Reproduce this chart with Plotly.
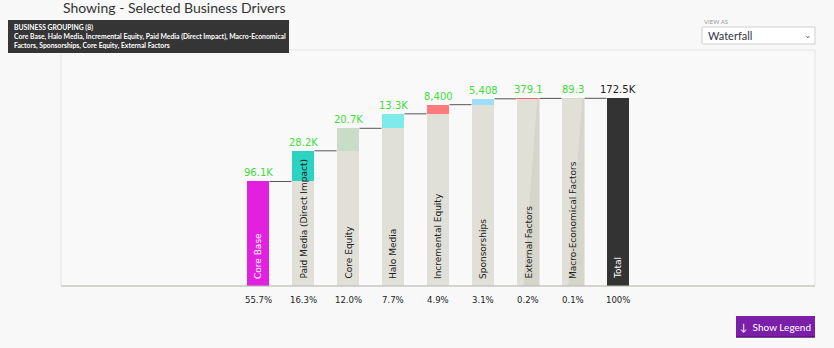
import plotly.graph_objects as go

categories = ["Core Base", "Paid Media (Direct Impact)", "Core Equity", "Halo Media",
              "Incremental Equity", "Sponsorships", "External Factors",
              "Macro-Economical Factors", "Total"]
values = [96100, 28200, 20700, 13300, 8400, 5408, 379.1, 89.3]
total_value = 172500
value_labels = ["96.1K", "28.2K", "20.7K", "13.3K", "8,400", "5,408", "379.1", "89.3", "172.5K"]
pct_labels = ["55.7%", "16.3%", "12.0%", "7.7%", "4.9%", "3.1%", "0.2%", "0.1%", "100%"]
bar_colors = ["#E120E0", "#2BD3C0", "#C9DCC8", "#7EEAEA", "#FF7B7B", "#9EDFF7",
              "#F06464", "#D9D9CF", "#333333"]

W, H = 834, 348
L, R, T, B = 61, 19, 50, 62
PW, PH = W - L - R, H - T - B

def px(x):
    return (x - L) / PW

def py(y):
    return (H - B - y) / PH

n = len(categories)
xs = list(range(n))
starts = []
acc = 0
for v in values:
    starts.append(acc)
    acc += v
tops = [s + v for s, v in zip(starts, values)] + [total_value]

BW = 0.51
fig = go.Figure()

# grey support bars
fig.add_trace(go.Bar(x=xs[1:8], y=starts[1:], base=0, width=BW,
                     marker=dict(color="#E0E0D9", line=dict(width=0)),
                     hoverinfo="skip", showlegend=False))
# increments
fig.add_trace(go.Bar(x=xs[:8], y=values, base=starts, width=BW,
                     marker=dict(color=bar_colors[:8], line=dict(width=0)),
                     hoverinfo="skip", showlegend=False))
# total
fig.add_trace(go.Bar(x=[xs[8]], y=[total_value], base=0, width=BW,
                     marker=dict(color=bar_colors[8], line=dict(width=0)),
                     hoverinfo="skip", showlegend=False))

# connectors
for i in range(n - 1):
    fig.add_trace(go.Scatter(x=[xs[i] + BW / 2, xs[i + 1] - BW / 2], y=[tops[i], tops[i]],
                             mode="lines", line=dict(color="#555555", width=1),
                             hoverinfo="skip", showlegend=False))

shapes = []
# subtle diagonal shading on small-value bars
for i in (6, 7):
    shapes.append(dict(type="path", xref="x", yref="y",
                       path=f"M {xs[i] + BW/2 - 0.05} {starts[i]} L {xs[i] + BW/2} {starts[i]} "
                            f"L {xs[i] + BW/2} 0 L {xs[i] - BW/2 + 0.15} 0 Z",
                       fillcolor="#D5D5CB", line=dict(width=0), layer="above"))

annotations = []
for i in range(n):
    annotations.append(dict(x=xs[i], y=tops[i], xref="x", yref="y", text=value_labels[i],
                            showarrow=False, yanchor="bottom", yshift=1,
                            font=dict(family="DejaVu Sans", size=10,
                                      color="#222222" if i == n - 1 else "#3FDC3A")))
    annotations.append(dict(x=xs[i], y=0, xref="x", yref="y", text=categories[i],
                            showarrow=False, textangle=-90, yanchor="bottom", yshift=5,
                            font=dict(family="DejaVu Sans", size=9,
                                      color="#FFFFFF" if i in (0, n - 1) else "#222222")))
    annotations.append(dict(x=xs[i], y=0, xref="x", yref="paper", text=pct_labels[i],
                            showarrow=False, yanchor="middle", yshift=-13,
                            font=dict(family="DejaVu Sans Condensed, DejaVu Sans", size=9.5,
                                      color="#222222")))

# panel frame and baseline
shapes.append(dict(type="rect", xref="paper", yref="paper", x0=0, x1=1, y0=0, y1=1,
                   line=dict(color="#E4E4E4", width=1), layer="below"))
shapes.append(dict(type="line", xref="paper", yref="paper", x0=0, x1=1, y0=0, y1=0,
                   line=dict(color="#B8B8B0", width=1.2)))

# tooltip box
shapes.append(dict(type="rect", xref="paper", yref="paper", x0=px(8), x1=px(289),
                   y0=py(53), y1=py(20), fillcolor="#353535", line=dict(width=0)))
annotations.append(dict(xref="paper", yref="paper", x=px(12), y=py(27), text="<b>BUSINESS GROUPING (8)</b>",
                        showarrow=False, xanchor="left", yanchor="middle",
                        font=dict(family="Lato", size=6.8, color="#FFFFFF")))
annotations.append(dict(xref="paper", yref="paper", x=px(12), y=py(41),
                        text="<b>Core Base, Halo Media, Incremental Equity, Paid Media (Direct Impact), Macro-Economical<br>Factors, Sponsorships, Core Equity, External Factors</b>",
                        showarrow=False, xanchor="left", yanchor="middle", align="left",
                        font=dict(family="Lato", size=6.8, color="#FFFFFF")))

# title
annotations.append(dict(xref="paper", yref="paper", x=px(61), y=py(7), text="Showing - Selected Business Drivers",
                        showarrow=False, xanchor="left", yanchor="middle",
                        font=dict(family="Lato", size=14, color="#333333")))

# view-as dropdown
annotations.append(dict(xref="paper", yref="paper", x=px(702), y=py(21), text="VIEW AS",
                        showarrow=False, xanchor="left", yanchor="middle",
                        font=dict(family="Lato", size=6, color="#999999")))
shapes.append(dict(type="rect", xref="paper", yref="paper", x0=px(702), x1=px(815),
                   y0=py(44), y1=py(27), fillcolor="#FFFFFF", line=dict(color="#CFCFCF", width=1)))
annotations.append(dict(xref="paper", yref="paper", x=px(706), y=py(36), text="Waterfall",
                        showarrow=False, xanchor="left", yanchor="middle",
                        font=dict(family="Lato", size=11, color="#333344")))
annotations.append(dict(xref="paper", yref="paper", x=px(808), y=py(35), text="⌄",
                        showarrow=False, xanchor="center", yanchor="middle",
                        font=dict(family="DejaVu Sans", size=9, color="#666666")))

# show legend button
shapes.append(dict(type="rect", xref="paper", yref="paper", x0=px(736), x1=px(815),
                   y0=py(337), y1=py(316), fillcolor="#7B1FA8", line=dict(width=0)))
shapes.append(dict(type="line", xref="paper", yref="paper", x0=px(736), x1=px(815),
                   y0=py(337), y1=py(337), line=dict(color="#5A1280", width=1.5)))
annotations.append(dict(xref="paper", yref="paper", x=px(775.5), y=py(326.5), text="↓  Show Legend",
                        showarrow=False, xanchor="center", yanchor="middle",
                        font=dict(family="Lato", size=10, color="#FFFFFF")))

fig.update_layout(
    width=W, height=H,
    margin=dict(l=L, r=R, t=T, b=B),
    paper_bgcolor="#F8F8F8", plot_bgcolor="#F9F9F9",
    barmode="overlay", bargap=0,
    xaxis=dict(range=[-197 / 45, (PW - 197) / 45], showticklabels=False, showgrid=False,
               zeroline=False, ticks="", fixedrange=True),
    yaxis=dict(range=[0, 217000], showticklabels=False, showgrid=False, zeroline=False,
               ticks="", fixedrange=True),
    shapes=shapes, annotations=annotations,
    showlegend=False,
)
fig.write_html("out.html")
